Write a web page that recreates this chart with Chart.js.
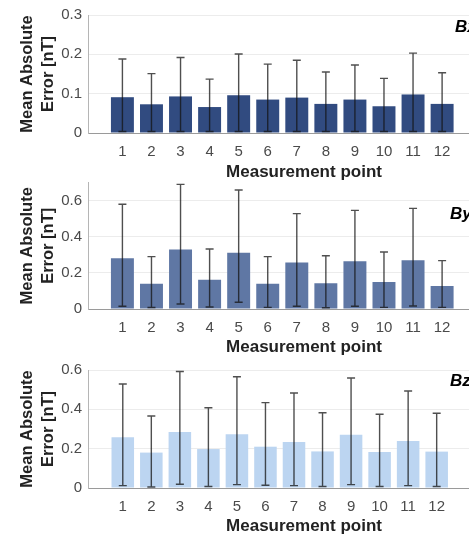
<!DOCTYPE html>
<html><head><meta charset="utf-8">
<script src="https://cdn.jsdelivr.net/npm/chart.js@4"></script>
<style>
html,body{margin:0;padding:0;background:#fff;overflow:hidden;width:469px;height:534px;position:relative}
.p{position:absolute;left:0;width:520px}
</style></head><body>
<div class="p" style="top:0;height:180px"><canvas id="c1"></canvas></div>
<div class="p" style="top:180px;height:178px"><canvas id="c2"></canvas></div>
<div class="p" style="top:358px;height:176px"><canvas id="c3"></canvas></div>
<script>
const categories = [1,2,3,4,5,6,7,8,9,10,11,12];

const bxMean  = [0.091,0.073,0.093,0.066,0.096,0.085,0.090,0.074,0.085,0.068,0.098,0.074];
const bxUpper = [0.188,0.151,0.192,0.137,0.201,0.175,0.185,0.155,0.173,0.139,0.203,0.153];
const bxLower = [0.004,0.004,0.004,0.004,0.004,0.004,0.004,0.004,0.004,0.004,0.004,0.004];

const byMean  = [0.281,0.140,0.330,0.162,0.312,0.140,0.257,0.142,0.264,0.150,0.270,0.127];
const byUpper = [0.580,0.290,0.690,0.332,0.659,0.290,0.528,0.295,0.546,0.316,0.557,0.268];
const byLower = [0.015,0.008,0.028,0.011,0.037,0.009,0.015,0.007,0.015,0.009,0.017,0.009];

const bzMean  = [0.258,0.180,0.285,0.198,0.273,0.210,0.234,0.186,0.271,0.183,0.239,0.185];
const bzUpper = [0.529,0.366,0.592,0.408,0.566,0.434,0.483,0.383,0.559,0.375,0.493,0.380];
const bzLower = [0.012,0.005,0.019,0.008,0.017,0.014,0.012,0.008,0.017,0.008,0.012,0.008];

const bxTicks = [0,0.1,0.2,0.3];
const byTicks = [0,0.2,0.4,0.6];
const bzTicks = [0,0.2,0.4,0.6];

const xTitle = 'Measurement point';
const yTitle = ['Mean Absolute','Error [nT]'];

const FONT = "'Liberation Sans', Arial, Helvetica, sans-serif";

function makeChart(id, cfg){
  const errPlugin = {
    id:'err'+id,
    afterDatasetsDraw(chart){
      const ctx = chart.ctx, xs = chart.scales.x, ys = chart.scales.y;
      ctx.save();
      ctx.strokeStyle = 'rgba(20,20,20,0.75)';
      ctx.lineWidth = 1.4;
      categories.forEach((c,i)=>{
        const x = xs.getPixelForValue(c);
        const yl = ys.getPixelForValue(cfg.lower[i]);
        const yh = ys.getPixelForValue(cfg.upper[i]);
        ctx.beginPath();
        ctx.moveTo(x,yl); ctx.lineTo(x,yh);
        ctx.moveTo(x-4,yl); ctx.lineTo(x+4,yl);
        ctx.moveTo(x-4,yh); ctx.lineTo(x+4,yh);
        ctx.stroke();
      });
      ctx.fillStyle = '#000';
      ctx.font = "italic bold 17px " + FONT;
      ctx.textBaseline = 'middle';
      ctx.textAlign = 'left';
      ctx.fillText(cfg.label, cfg.labelX, chart.chartArea.top + cfg.labelDy);
      ctx.restore();
    }
  };
  return new Chart(document.getElementById(id), {
    type:'bar',
    data:{ datasets:[{
      data: categories.map((c,i)=>({x:c, y:cfg.mean[i]})),
      backgroundColor: cfg.color,
      borderWidth:0,
      barPercentage:0.79,
      categoryPercentage:1
    }]},
    options:{
      responsive:true, maintainAspectRatio:false, animation:false,
      layout:{padding:{top:cfg.padTop,left:0,right:0,bottom:0}},
      plugins:{legend:{display:false},tooltip:{enabled:false}},
      scales:{
        x:{
          type:'linear', min:cfg.xmin, max:cfg.xmax, offset:false,
          grid:{display:false, drawTicks:false, offset:false},
          border:{display:true,color:'#9a9a9a',width:1},
          afterBuildTicks(s){ s.ticks = categories.map(v=>({value:v})); },
          afterFit(s){ s.height = cfg.xh; s.paddingLeft = 0; s.paddingRight = 0; },
          ticks:{ autoSkip:false, maxRotation:0, padding:10, color:'#4a4a4a',
            font:{family:FONT,size:15}, callback:v=>String(v) },
          title:{display:true,text:xTitle,color:'#222',
            font:{family:FONT,size:17,weight:'bold',lineHeight:0.85},
            padding:{top:0,bottom:cfg.titlePad}}
        },
        y:{
          min:0, max:cfg.ymax,
          grid:{color:'#ececec', drawTicks:false, lineWidth:1},
          border:{display:true,color:'#b5b5b5',width:1},
          afterBuildTicks(s){ s.ticks = cfg.ticks.map(v=>({value:v})); },
          afterFit(s){ s.width = 88; s.paddingTop = 0; s.paddingBottom = 0; },
          ticks:{ padding:6, color:'#4a4a4a', font:{family:FONT,size:15}, callback:v=>String(v) },
          title:{display:true,text:yTitle,color:'#222',
            font:{family:FONT,size:16.5,weight:'bold',lineHeight:1.27},
            padding:{top:17,bottom:0}}
        }
      }
    },
    plugins:[errPlugin]
  });
}

makeChart('c1',{mean:bxMean,upper:bxUpper,lower:bxLower,ticks:bxTicks,ymax:0.3,
  color:'#314b80',padTop:15,xh:47,titlePad:0.5,xmin:-0.184,xmax:14.68,
  label:'Bx',labelX:455,labelDy:12});
makeChart('c2',{mean:byMean,upper:byUpper,lower:byLower,ticks:byTicks,ymax:0.7,
  color:'#5f77a4',padTop:2.6,xh:49,titlePad:3.8,xmin:-0.184,xmax:14.68,
  label:'By',labelX:450,labelDy:32});
makeChart('c3',{mean:bzMean,upper:bzUpper,lower:bzLower,ticks:bzTicks,ymax:0.6,
  color:'#bcd5f1',padTop:12,xh:46,titlePad:0,xmin:-0.219,xmax:14.92,
  label:'Bz',labelX:450,labelDy:11});
</script>
</body></html>
